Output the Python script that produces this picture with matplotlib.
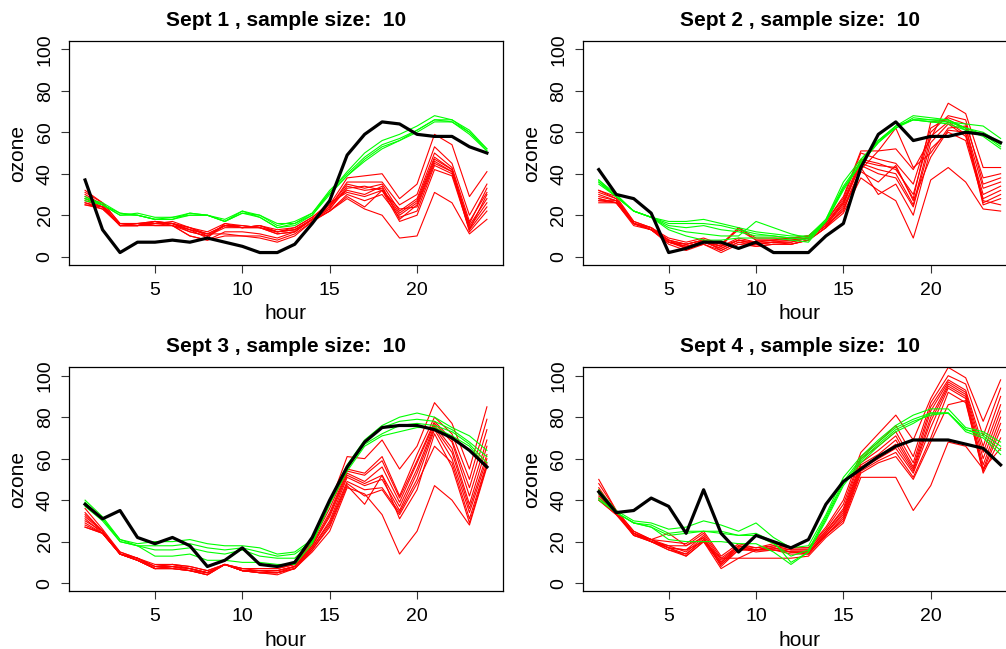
import numpy as np
import matplotlib.pyplot as plt

# =========================
# Data
# =========================
hours = np.arange(1, 25)
days = ["Sept 1", "Sept 2", "Sept 3", "Sept 4"]
sample_size = 10

# observed ozone (black)
obs_sept1 = [37, 13, 2, 7, 7, 8, 7, 9, 7, 5, 2, 2, 6, 16, 27, 49, 59, 65, 64, 59, 58, 58, 53, 50]
obs_sept2 = [42, 30, 28, 21, 2, 4, 7, 7, 4, 7, 2, 2, 2, 10, 16, 43, 59, 65, 56, 58, 58, 60, 59, 55]
obs_sept3 = [38, 31, 35, 22, 19, 22, 18, 8, 11, 17, 9, 8, 10, 22, 40, 56, 68, 75, 76, 76, 74, 70, 64, 56]
obs_sept4 = [44, 34, 35, 41, 37, 24, 45, 24, 15, 23, 20, 17, 21, 38, 49, 55, 61, 66, 69, 69, 69, 67, 65, 57]

# smooth fits (green)
green_sept1 = [
    [28, 26, 21, 20, 18, 19, 20, 20, 17, 22, 20, 15, 17, 21, 31, 41, 50, 56, 59, 63, 68, 66, 61, 52],
    [29, 25, 21, 20, 18, 18, 20, 20, 17, 21, 20, 16, 16, 21, 32, 40, 48, 54, 57, 61, 66, 66, 60, 51],
    [28, 25, 20, 21, 19, 19, 21, 20, 18, 22, 19, 14, 16, 20, 31, 39, 47, 53, 56, 60, 65, 65, 59, 51],
    [27, 25, 20, 20, 18, 18, 21, 20, 17, 21, 19, 14, 15, 20, 30, 39, 46, 52, 56, 61, 66, 65, 60, 52],
]
green_sept2 = [
    [37, 30, 22, 19, 17, 17, 18, 16, 14, 12, 11, 10, 10, 18, 36, 47, 56, 62, 67, 66, 65, 64, 63, 57],
    [36, 29, 22, 19, 16, 16, 16, 15, 13, 11, 10, 9, 9, 18, 34, 46, 56, 63, 68, 67, 66, 62, 60, 55],
    [35, 29, 22, 19, 15, 14, 15, 13, 12, 10, 10, 9, 8, 17, 33, 45, 55, 63, 66, 66, 66, 61, 59, 53],
    [36, 29, 22, 19, 14, 12, 11, 10, 10, 17, 14, 11, 9, 17, 33, 45, 55, 62, 66, 65, 64, 61, 58, 52],
    [37, 29, 22, 19, 13, 10, 8, 8, 9, 9, 9, 8, 7, 17, 32, 45, 56, 63, 66, 65, 65, 62, 59, 54],
]
green_sept3 = [
    [40, 32, 21, 19, 20, 20, 21, 19, 18, 18, 17, 14, 15, 21, 40, 57, 69, 76, 80, 82, 80, 75, 71, 64],
    [39, 31, 21, 18, 18, 18, 19, 17, 16, 17, 15, 13, 14, 20, 39, 56, 68, 75, 78, 79, 78, 74, 68, 61],
    [38, 31, 20, 18, 16, 16, 17, 15, 14, 16, 13, 12, 12, 20, 39, 55, 67, 72, 76, 77, 76, 73, 67, 58],
    [37, 30, 20, 18, 13, 13, 14, 11, 11, 10, 10, 9, 9, 19, 38, 54, 66, 71, 73, 75, 75, 71, 66, 56],
]
green_sept4 = [
    [45, 35, 30, 29, 26, 27, 30, 28, 25, 29, 22, 17, 18, 33, 51, 61, 69, 76, 81, 84, 84, 75, 73, 68],
    [43, 34, 29, 28, 24, 25, 25, 25, 23, 23, 19, 13, 16, 32, 49, 60, 68, 75, 79, 82, 82, 74, 72, 66],
    [41, 34, 29, 27, 23, 24, 25, 24, 23, 24, 20, 10, 15, 31, 48, 59, 67, 74, 78, 81, 82, 74, 71, 64],
    [40, 34, 29, 27, 21, 20, 20, 20, 19, 19, 15, 9, 15, 30, 47, 58, 66, 73, 77, 82, 82, 73, 70, 62],
]

# sampled curves (red)
red_sept1 = [
    [32, 26, 16, 16, 17, 16, 14, 12, 16, 14, 15, 13, 14, 19, 25, 38, 39, 40, 28, 35, 59, 54, 29, 41],
    [30, 25, 15, 15, 16, 16, 13, 11, 15, 15, 14, 12, 13, 18, 24, 36, 36, 36, 25, 30, 53, 45, 20, 35],
    [28, 24, 15, 15, 16, 17, 14, 11, 15, 14, 14, 12, 13, 18, 24, 35, 33, 35, 22, 28, 50, 43, 17, 31],
    [26, 24, 15, 16, 17, 16, 14, 10, 15, 14, 14, 11, 12, 18, 23, 34, 32, 33, 21, 27, 48, 42, 15, 28],
    [25, 23, 16, 16, 15, 15, 12, 10, 14, 14, 15, 12, 13, 18, 23, 33, 34, 32, 20, 26, 47, 42, 14, 26],
    [29, 25, 15, 15, 16, 16, 13, 9, 16, 15, 14, 11, 12, 18, 25, 32, 30, 34, 18, 25, 46, 41, 13, 24],
    [31, 26, 16, 15, 17, 16, 12, 10, 15, 14, 15, 12, 14, 19, 26, 31, 29, 32, 23, 24, 45, 41, 12, 22],
    [27, 24, 15, 15, 17, 15, 10, 8, 12, 12, 11, 9, 12, 18, 22, 30, 27, 30, 19, 22, 44, 40, 16, 33],
    [26, 23, 15, 15, 15, 15, 13, 11, 11, 10, 10, 8, 11, 17, 22, 29, 24, 32, 17, 20, 42, 39, 13, 30],
    [25, 24, 15, 16, 16, 15, 10, 8, 10, 10, 9, 7, 10, 17, 22, 28, 23, 20, 9, 10, 31, 26, 11, 18],
]
red_sept2 = [
    [32, 29, 17, 14, 9, 7, 9, 6, 14, 9, 9, 9, 10, 17, 29, 51, 51, 52, 42, 57, 74, 69, 43, 43],
    [31, 28, 17, 14, 8, 6, 8, 5, 14, 8, 8, 9, 10, 17, 28, 50, 47, 45, 35, 62, 67, 64, 38, 40],
    [30, 27, 16, 13, 8, 6, 8, 6, 13, 8, 8, 9, 10, 16, 27, 47, 45, 42, 30, 60, 68, 66, 35, 38],
    [29, 27, 16, 13, 7, 5, 7, 5, 8, 7, 8, 8, 9, 16, 26, 46, 44, 43, 28, 65, 66, 62, 33, 36],
    [28, 26, 16, 13, 7, 5, 7, 4, 8, 6, 7, 8, 9, 15, 25, 45, 42, 40, 25, 58, 65, 59, 30, 34],
    [32, 28, 16, 14, 8, 4, 8, 3, 7, 6, 7, 7, 9, 15, 26, 44, 40, 38, 24, 55, 64, 58, 28, 32],
    [27, 27, 16, 13, 7, 4, 6, 3, 7, 5, 6, 6, 8, 14, 24, 42, 51, 62, 43, 50, 62, 63, 26, 30],
    [26, 26, 15, 13, 6, 3, 6, 2, 6, 5, 6, 6, 8, 14, 23, 41, 36, 44, 27, 48, 61, 60, 25, 28],
    [28, 26, 16, 14, 7, 5, 7, 4, 8, 6, 7, 7, 9, 15, 22, 43, 30, 35, 20, 52, 60, 56, 27, 25],
    [27, 26, 16, 13, 7, 6, 8, 5, 9, 7, 7, 6, 8, 14, 21, 38, 32, 27, 9, 37, 43, 36, 23, 22],
]
red_sept3 = [
    [36, 26, 15, 12, 9, 9, 8, 6, 9, 7, 7, 7, 9, 21, 38, 61, 60, 69, 55, 66, 87, 77, 55, 85],
    [34, 25, 15, 12, 8, 9, 8, 6, 9, 7, 7, 7, 9, 20, 36, 55, 53, 61, 42, 62, 80, 72, 50, 79],
    [33, 25, 14, 12, 8, 9, 7, 5, 9, 7, 6, 6, 8, 19, 34, 54, 52, 59, 41, 59, 78, 69, 46, 74],
    [32, 25, 14, 12, 8, 8, 7, 5, 9, 6, 6, 6, 8, 18, 33, 53, 49, 56, 39, 58, 77, 68, 42, 69],
    [31, 24, 14, 11, 7, 8, 7, 5, 9, 6, 6, 6, 8, 18, 32, 52, 48, 52, 37, 55, 76, 65, 38, 66],
    [30, 25, 14, 11, 7, 8, 7, 5, 9, 6, 6, 5, 8, 17, 30, 51, 47, 50, 35, 53, 75, 63, 36, 62],
    [29, 24, 14, 11, 7, 8, 6, 4, 9, 6, 5, 5, 7, 17, 29, 49, 45, 46, 34, 50, 74, 60, 34, 60],
    [28, 24, 14, 11, 7, 7, 6, 4, 9, 6, 5, 5, 7, 16, 28, 48, 42, 45, 33, 48, 66, 58, 31, 58],
    [27, 24, 14, 11, 7, 7, 6, 4, 9, 6, 5, 4, 7, 16, 27, 47, 38, 52, 31, 45, 72, 56, 29, 57],
    [27, 24, 14, 12, 7, 7, 6, 5, 9, 6, 5, 5, 7, 15, 25, 46, 43, 33, 14, 25, 47, 40, 28, 56],
]
red_sept4 = [
    [50, 35, 25, 21, 20, 19, 25, 13, 19, 17, 19, 17, 17, 27, 40, 63, 72, 81, 69, 89, 104, 99, 78, 98],
    [48, 35, 25, 21, 18, 18, 24, 12, 18, 17, 18, 17, 17, 26, 38, 61, 68, 76, 61, 87, 100, 96, 71, 94],
    [46, 34, 24, 21, 17, 16, 23, 11, 18, 16, 18, 16, 16, 25, 36, 60, 66, 73, 58, 85, 98, 93, 66, 90],
    [45, 34, 24, 20, 18, 15, 22, 10, 18, 16, 17, 16, 16, 25, 35, 58, 64, 71, 56, 83, 97, 92, 63, 86],
    [44, 34, 24, 20, 17, 14, 21, 10, 17, 16, 17, 15, 15, 24, 34, 57, 62, 69, 55, 80, 96, 91, 60, 83],
    [43, 34, 24, 20, 16, 14, 21, 9, 17, 15, 16, 15, 15, 24, 33, 56, 61, 67, 54, 78, 95, 90, 57, 80],
    [42, 34, 23, 20, 17, 13, 20, 9, 16, 16, 16, 14, 14, 23, 32, 55, 60, 65, 53, 75, 94, 89, 55, 77],
    [41, 34, 23, 21, 24, 18, 22, 8, 16, 16, 16, 15, 14, 23, 31, 54, 59, 63, 51, 70, 92, 87, 54, 74],
    [40, 33, 23, 20, 16, 13, 20, 7, 12, 16, 17, 15, 15, 23, 30, 53, 58, 61, 50, 68, 86, 88, 53, 70],
    [40, 33, 24, 21, 17, 16, 20, 12, 12, 12, 12, 12, 13, 22, 29, 51, 51, 51, 35, 47, 68, 66, 55, 65],
]

observed = [obs_sept1, obs_sept2, obs_sept3, obs_sept4]
greens = [green_sept1, green_sept2, green_sept3, green_sept4]
reds = [red_sept1, red_sept2, red_sept3, red_sept4]

# =========================
# Figure setup
# =========================
plt.rcParams["font.family"] = ["Liberation Sans", "DejaVu Sans"]
plt.rcParams["font.size"] = 14

W, H = 1006, 649
fig = plt.figure(figsize=(W / 100, H / 100), dpi=100)

# panel boxes in pixels: (left, top, width, height); right column runs off the page
boxes = [
    (69, 41, 434, 224),
    (582.7, 41, 434, 224),
    (69, 367.4, 434, 224),
    (582.7, 367.4, 434, 224),
]

for i, (left, top, w, h) in enumerate(boxes):
    ax = fig.add_axes([left / W, (H - top - h) / H, w / W, h / H])

    for r in reds[i]:
        ax.plot(hours, r, color="#ff0000", lw=0.8)
    for g in greens[i]:
        ax.plot(hours, g, color="#00ff00", lw=0.8)
    ax.plot(hours, observed[i], color="black", lw=2.3)

    ax.set_xlim(0.08, 24.92)
    ax.set_ylim(-4, 104)
    ax.set_xticks([5, 10, 15, 20])
    ax.set_yticks([0, 20, 40, 60, 80, 100])
    ax.tick_params(direction="out", length=6, width=0.8, color="#333333", labelsize=14)
    ax.tick_params(axis="x", pad=6)
    ax.tick_params(axis="y", pad=5, labelrotation=90)
    for lab in ax.get_yticklabels():
        lab.set_verticalalignment("center")
    for s in ax.spines.values():
        s.set_linewidth(0.9)

    ax.set_title(f"{days[i]} , sample size:  {sample_size}", fontweight="bold",
                 fontsize=15, pad=11)
    ax.set_xlabel("hour", fontsize=15, labelpad=4)
    ax.set_ylabel("ozone", fontsize=15, labelpad=7)

plt.savefig("out.png", dpi=100)
